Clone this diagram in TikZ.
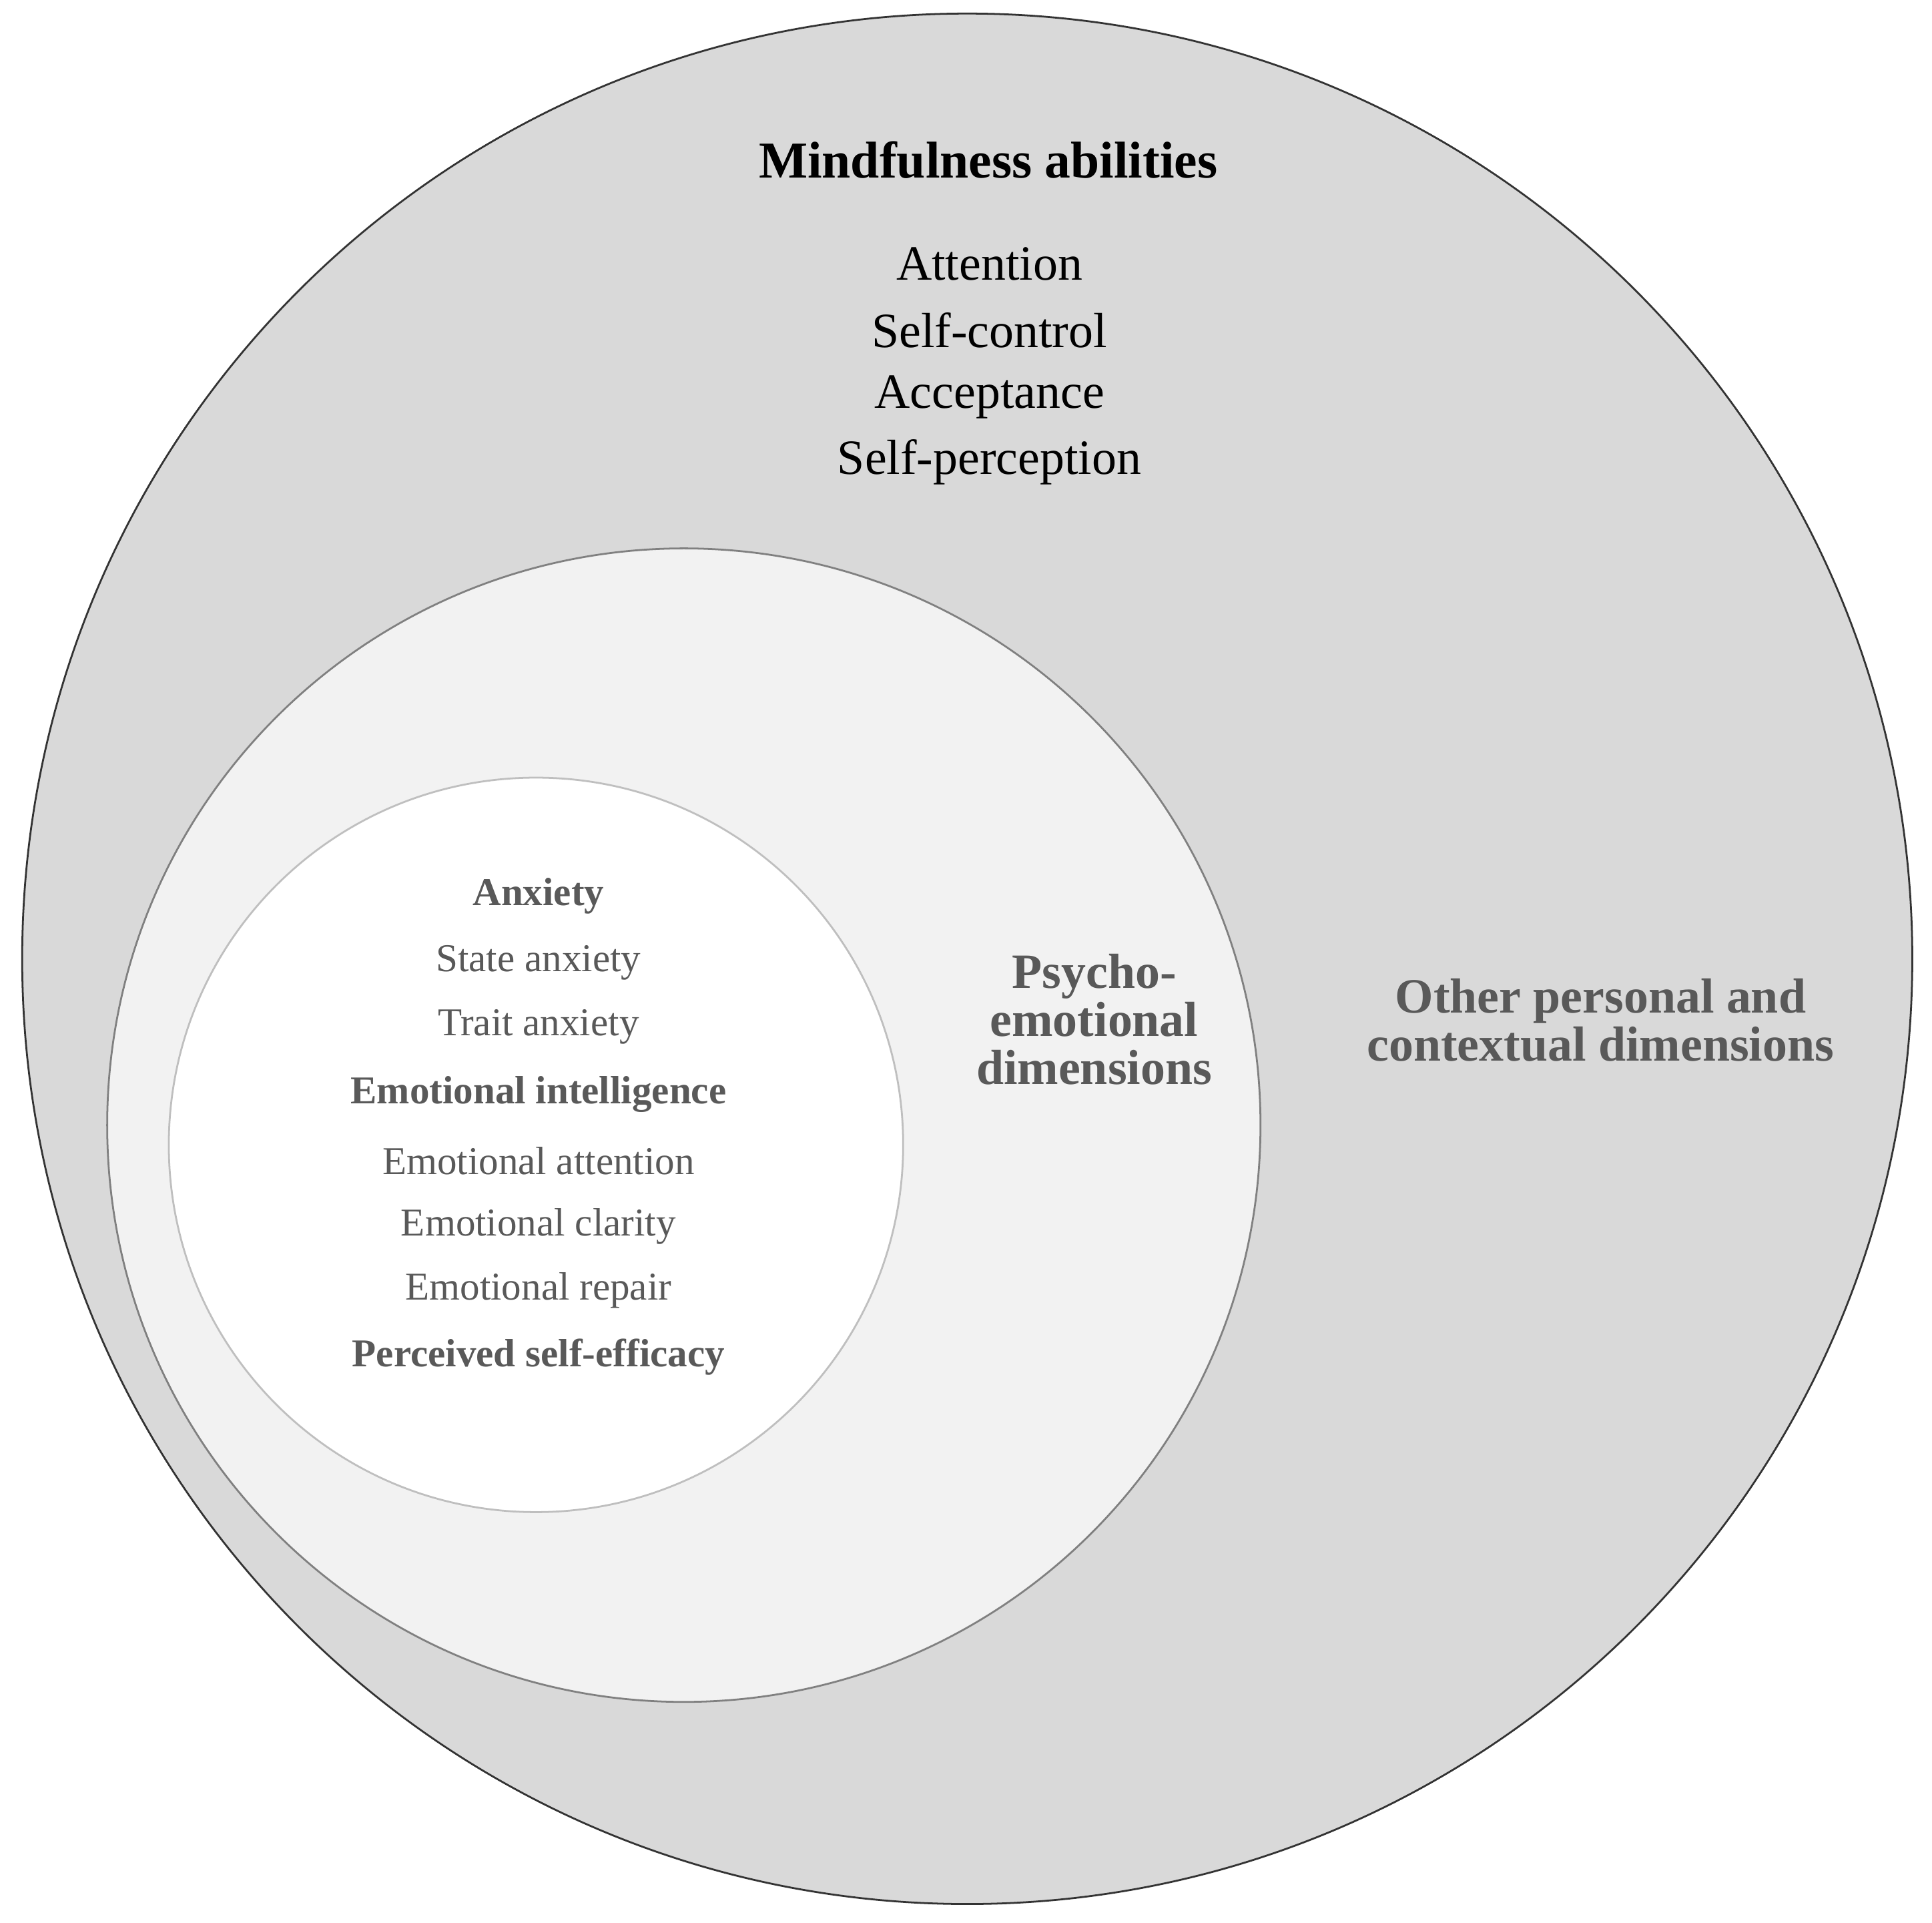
\documentclass[tikz,border=0pt]{standalone}
\usepackage{fontspec}
\setmainfont{Liberation Serif}
\definecolor{outerfill}{HTML}{D9D9D9}
\definecolor{midfill}{HTML}{F2F2F2}
\definecolor{txtgray}{HTML}{595959}
\begin{document}
\begin{tikzpicture}[x=1pt,y=-1pt,
  big/.style={font=\fontsize{40}{39}\selectfont,align=center,inner sep=0pt},
  bigb/.style={font=\fontsize{40}{39}\selectfont\bfseries,align=center,inner sep=0pt,text=txtgray},
  item/.style={font=\fontsize{32}{32}\selectfont,text=txtgray,inner sep=0pt},
  itemb/.style={font=\fontsize{32}{32}\selectfont\bfseries,text=txtgray,inner sep=0pt}]
\useasboundingbox (0,0) rectangle (1568,1560);
\fill[white] (0,0) rectangle (1568,1560);
\draw[fill=outerfill,draw=black!80,line width=1.5] (785,778) circle (767);
\draw[fill=midfill,draw=black!50,line width=1.5] (555,913) circle (468);
\draw[fill=white,draw=black!25,line width=1.5] (435,929) circle (298);
\node[big,font=\fontsize{42}{42}\selectfont\bfseries] (title) at (802,130) {Mindfulness abilities};
\node[big] (a1) at (803,214) {Attention};
\node[big] (a2) at (803,268) {Self-control};
\node[big] (a3) at (803,322) {Acceptance};
\node[big] (a4) at (803,375) {Self-perception};
\node[itemb] (i1) at (437,727) {Anxiety};
\node[item] (i2) at (437,781) {State anxiety};
\node[item] (i3) at (437,833) {Trait anxiety};
\node[itemb] (i4) at (437,888) {Emotional intelligence};
\node[item] (i5) at (437,942) {Emotional attention};
\node[item] (i6) at (437,995) {Emotional clarity};
\node[item] (i7) at (437,1047) {Emotional repair};
\node[itemb] (i8) at (437,1101) {Perceived self-efficacy};
\node[bigb] (psy) at (888,827) {Psycho-\\emotional\\dimensions};
\node[bigb] (oth) at (1299,828) {Other personal and\\contextual dimensions};
\end{tikzpicture}
\end{document}
